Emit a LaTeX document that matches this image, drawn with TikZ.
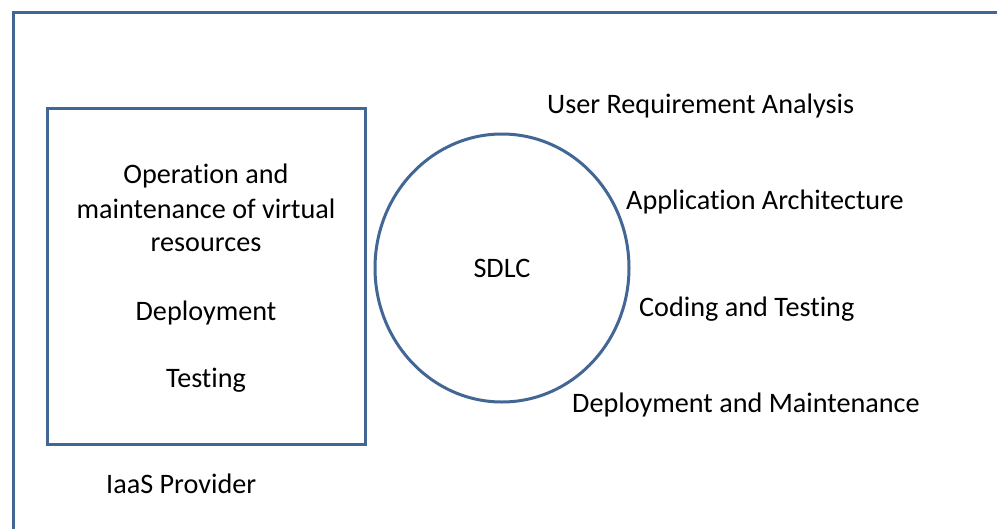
\documentclass[tikz,border=0pt]{standalone}
\usepackage{fontspec}
\setmainfont{Carlito}[RawFeature={-liga}]
\usetikzlibrary{shapes.geometric}
\definecolor{frameblue}{RGB}{67,103,148}

\tikzset{
  frameline/.style={draw=frameblue, line width=3pt},
  lbl/.style={font=\fontsize{28.2}{34}\selectfont, inner sep=0pt, anchor=base},
  rlbl/.style={lbl, anchor=base west}
}

\begin{document}
\begin{tikzpicture}[x=1pt,y=-1pt]
  \useasboundingbox (0,0) rectangle (997,528);
  \clip (0,0) rectangle (997,528);
  \fill[white] (0,0) rectangle (997,528);

  % outer frame, runs off the page on the right and bottom
  \coordinate (fbl) at (13,540);
  \coordinate (ftl) at (13,12);
  \coordinate (ftr) at (1010,12);
  \draw[frameline] (fbl) -- (ftl) -- (ftr);

  % IaaS provider box
  \node[frameline, rectangle, minimum width=318pt, minimum height=336pt] (iaas) at (206,276) {};
  \node[lbl] (opa) at (206,183) {Operation and};
  \node[lbl] (opb) at (206,218) {maintenance of virtual};
  \node[lbl] (opc) at (206,251) {resources};
  \node[lbl] (dep) at (206,320) {Deployment};
  \node[lbl] (tst) at (206,387) {Testing};
  \node[lbl, anchor=base west] (prov) at (106,493) {IaaS Provider};

  % SDLC circle
  \node[frameline, ellipse, minimum width=254pt, minimum height=268pt,
        font=\fontsize{28.2}{34}\selectfont] (sdlc) at (502,268) {SDLC};
  \node[rlbl] (ura) at (547,113) {User Requirement Analysis};
  \node[rlbl] (arch) at (626,209) {Application Architecture};
  \node[rlbl] (code) at (639,316) {Coding and Testing};
  \node[rlbl] (maint) at (572,412) {Deployment and Maintenance};
\end{tikzpicture}
\end{document}
